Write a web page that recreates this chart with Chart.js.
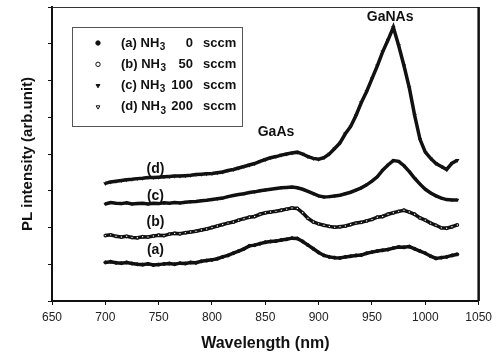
<!DOCTYPE html>
<html>
<head>
<meta charset="utf-8">
<script src="https://cdn.jsdelivr.net/npm/chart.js@4/dist/chart.umd.min.js"></script>
<style>
  html, body { margin: 0; padding: 0; background: #fff; }
  #wrap { width: 497px; height: 357px; }
</style>
</head>
<body>
<div id="wrap"><canvas id="plChart" width="497" height="357"></canvas></div>
<script>
// PL spectra, wavelength in nm, intensity offset per sample (arb. unit)
const wavelength = [
  700, 705, 710, 715, 720, 725, 730, 735, 740, 745, 750, 755, 760, 765, 770, 775, 780, 785, 790, 795,
  800, 805, 810, 815, 820, 825, 830, 835, 840, 845, 850, 855, 860, 865, 870, 875, 880, 885, 890, 895,
  900, 905, 910, 915, 920, 925, 930, 935, 940, 945, 950, 955, 960, 965, 970, 975, 980, 985, 990, 995,
  1000, 1005, 1010, 1015, 1020, 1025, 1030
];

const nh3_0 = [
  1.05, 1.07, 1.04, 1.03, 1.05, 1.02, 1.00, 0.99, 1.01, 0.98, 0.99, 1.01, 1.02, 1.00, 1.03, 1.02, 1.05, 1.04, 1.08, 1.10,
  1.12, 1.15, 1.20, 1.24, 1.30, 1.36, 1.42, 1.50, 1.52, 1.56, 1.60, 1.62, 1.63, 1.66, 1.68, 1.71, 1.70, 1.62, 1.52, 1.42,
  1.32, 1.24, 1.20, 1.18, 1.17, 1.20, 1.22, 1.24, 1.25, 1.30, 1.33, 1.36, 1.38, 1.40, 1.44, 1.47, 1.46, 1.48, 1.42, 1.36,
  1.30, 1.22, 1.16, 1.18, 1.20, 1.24, 1.27
];

const nh3_50 = [
  1.78, 1.80, 1.76, 1.74, 1.76, 1.73, 1.72, 1.75, 1.74, 1.77, 1.79, 1.78, 1.82, 1.84, 1.83, 1.86, 1.88, 1.90, 1.93, 1.96,
  2.00, 2.04, 2.08, 2.12, 2.15, 2.20, 2.24, 2.28, 2.30, 2.36, 2.40, 2.42, 2.44, 2.47, 2.50, 2.53, 2.52, 2.40, 2.25, 2.15,
  2.10, 2.06, 2.03, 2.01, 2.02, 2.04, 2.08, 2.12, 2.14, 2.18, 2.22, 2.28, 2.30, 2.36, 2.40, 2.44, 2.47, 2.42, 2.36, 2.26,
  2.20, 2.12, 2.06, 1.99, 1.98, 2.02, 2.07
];

const nh3_100 = [
  2.64, 2.68, 2.66, 2.65, 2.67, 2.64, 2.65, 2.66, 2.64, 2.66, 2.65, 2.67, 2.66, 2.68, 2.67, 2.69, 2.70, 2.71, 2.73, 2.74,
  2.76, 2.78, 2.80, 2.84, 2.87, 2.90, 2.92, 2.95, 2.97, 3.00, 3.02, 3.04, 3.06, 3.08, 3.09, 3.10, 3.08, 3.04, 2.98, 2.92,
  2.86, 2.83, 2.84, 2.86, 2.88, 2.92, 2.96, 3.02, 3.08, 3.16, 3.26, 3.38, 3.56, 3.70, 3.82, 3.80, 3.68, 3.52, 3.34, 3.18,
  3.04, 2.94, 2.86, 2.80, 2.76, 2.75, 2.75
];

const nh3_200 = [
  3.20, 3.24, 3.26, 3.28, 3.30, 3.31, 3.33, 3.34, 3.36, 3.36, 3.37, 3.38, 3.39, 3.40, 3.40, 3.41, 3.42, 3.44, 3.45, 3.46,
  3.47, 3.49, 3.51, 3.55, 3.58, 3.62, 3.66, 3.70, 3.74, 3.80, 3.85, 3.90, 3.93, 3.97, 4.00, 4.03, 4.05, 4.00, 3.93, 3.88,
  3.86, 3.90, 4.00, 4.15, 4.30, 4.55, 4.75, 5.05, 5.40, 5.70, 6.05, 6.40, 6.78, 7.10, 7.45, 6.95, 6.40, 5.80, 5.05, 4.40,
  4.05, 3.88, 3.74, 3.66, 3.58, 3.75, 3.83
];

const xTicks = [650, 700, 750, 800, 850, 900, 950, 1000, 1050];
const legendTags = ['(a)', '(b)', '(c)', '(d)'];
const legendFlow = ['0', '50', '100', '200'];

// curve labels and peak names, placed in data coordinates
const curveLabels = [
  { text: '(d)', x: 747, y: 3.59 },
  { text: '(c)', x: 747, y: 2.85 },
  { text: '(b)', x: 747, y: 2.15 },
  { text: '(a)', x: 747, y: 1.39 },
  { text: 'GaAs', x: 860, y: 4.59 },
  { text: 'GaNAs', x: 967, y: 7.72 }
];

const FONT = 'Arial, "Liberation Sans", sans-serif';
const toPoints = ys => ys.map((y, i) => ({ x: wavelength[i], y }));

function series(ys, style, filled, rotation) {
  return {
    data: toPoints(ys),
    borderColor: '#111',
    borderWidth: 3.5,
    backgroundColor: filled ? '#111' : '#fff',
    pointStyle: style,
    pointRotation: rotation,
    pointRadius: filled ? 1.5 : 1.3,
    pointBorderWidth: filled ? 1 : 1.2,
    pointBorderColor: '#111',
    pointBackgroundColor: filled ? '#111' : '#fff',
    tension: 0
  };
}

const datasets = [
  series(nh3_0, 'circle', true, 0),
  series(nh3_50, 'circle', false, 0),
  series(nh3_100, 'triangle', true, 180),
  series(nh3_200, 'triangle', false, 180)
];

// frame, boxed legend with subscripts, and text labels
const decorations = {
  id: 'decorations',
  afterDatasetsDraw(chart) {
    const { ctx, chartArea: a, scales: { x, y } } = chart;
    ctx.save();

    ctx.strokeStyle = '#3a3030';
    ctx.lineWidth = 1;
    ctx.beginPath();
    ctx.moveTo(a.left, a.top + 0.5);
    ctx.lineTo(a.right, a.top + 0.5);
    ctx.stroke();
    ctx.strokeStyle = '#111';
    ctx.lineWidth = 2.5;
    ctx.beginPath();
    ctx.moveTo(a.right, a.top);
    ctx.lineTo(a.right, a.bottom);
    ctx.stroke();

    // legend box
    ctx.fillStyle = '#fff';
    ctx.fillRect(72, 27, 170, 99);
    ctx.strokeStyle = '#555';
    ctx.lineWidth = 1;
    ctx.strokeRect(72.5, 27.5, 170, 99);

    ctx.font = 'bold 13px ' + FONT;
    ctx.textBaseline = 'middle';
    datasets.forEach((ds, i) => {
      const rowY = 43 + i * 21.3;
      ctx.fillStyle = ds.pointBackgroundColor;
      ctx.strokeStyle = '#111';
      ctx.lineWidth = 1;
      Chart.helpers.drawPoint(ctx, {
        pointStyle: ds.pointStyle,
        rotation: ds.pointRotation,
        radius: 2.2,
        borderWidth: 1
      }, 98, rowY);

      ctx.fillStyle = '#111';
      ctx.textAlign = 'left';
      const head = legendTags[i] + ' NH';
      ctx.fillText(head, 121, rowY);
      const w = ctx.measureText(head).width;
      ctx.font = 'bold 10px ' + FONT;
      ctx.fillText('3', 121 + w + 0.5, rowY + 4);
      ctx.font = 'bold 13px ' + FONT;
      ctx.textAlign = 'right';
      ctx.fillText(legendFlow[i], 193, rowY);
      ctx.textAlign = 'left';
      ctx.fillText('sccm', 203, rowY);
    });

    ctx.font = 'bold 14px ' + FONT;
    ctx.textAlign = 'center';
    ctx.fillStyle = '#111';
    curveLabels.forEach(l => {
      ctx.fillText(l.text, x.getPixelForValue(l.x), y.getPixelForValue(l.y));
    });

    ctx.restore();
  }
};

new Chart(document.getElementById('plChart'), {
  type: 'line',
  data: { datasets },
  options: {
    responsive: false,
    animation: false,
    layout: { padding: { top: 7, right: 18, left: 0, bottom: 0 } },
    plugins: {
      legend: { display: false },
      tooltip: { enabled: false }
    },
    scales: {
      x: {
        type: 'linear',
        min: 650,
        max: 1050,
        afterBuildTicks: scale => { scale.ticks = xTicks.map(v => ({ value: v })); },
        afterFit: scale => { scale.height = 56; },
        border: { color: '#111', width: 2 },
        grid: { drawOnChartArea: false, drawTicks: true, tickLength: 4, color: '#111' },
        ticks: {
          color: '#222',
          padding: 5,
          maxRotation: 0,
          callback: v => String(v),
          font: { family: FONT, size: 12 }
        },
        title: {
          display: true,
          text: 'Wavelength (nm)',
          color: '#111',
          padding: { top: 0, bottom: 4 },
          font: { family: FONT, size: 16, weight: 'bold' }
        }
      },
      y: {
        min: 0,
        max: 8,
        afterFit: scale => { scale.width = 52; },
        border: { color: '#111', width: 2 },
        grid: { drawOnChartArea: false, drawTicks: true, tickLength: 4, color: '#111' },
        ticks: { stepSize: 1, display: false },
        title: {
          display: true,
          text: 'PL intensity (arb.unit)',
          color: '#111',
          padding: { top: 19, bottom: 0 },
          font: { family: FONT, size: 15, weight: 'bold' }
        }
      }
    }
  },
  plugins: [decorations]
});
</script>
</body>
</html>
